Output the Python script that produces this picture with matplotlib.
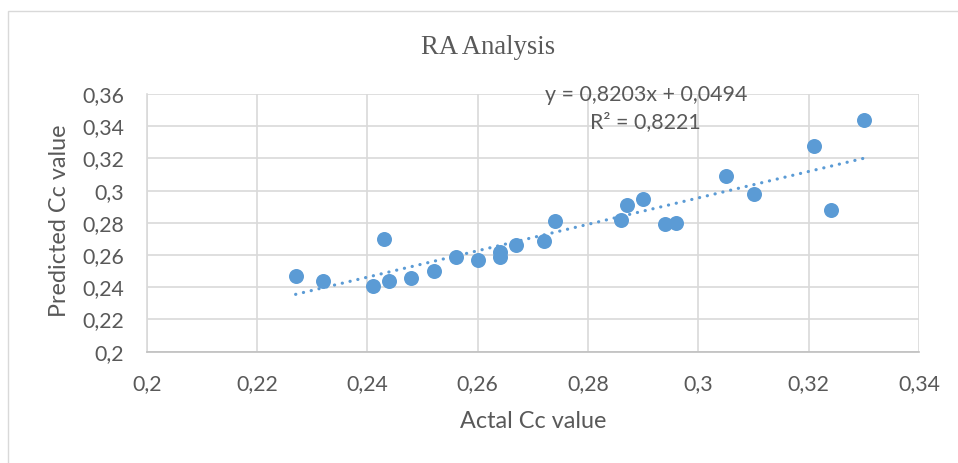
import matplotlib
matplotlib.use("Agg")
import matplotlib.pyplot as plt
import numpy as np
from matplotlib.patches import Rectangle

# ---- data ----
actual = [0.227, 0.232, 0.241, 0.243, 0.244, 0.248, 0.252, 0.256, 0.260, 0.264,
          0.264, 0.267, 0.272, 0.274, 0.286, 0.287, 0.290, 0.294, 0.296, 0.305,
          0.310, 0.321, 0.324, 0.330]
predicted = [0.247, 0.244, 0.241, 0.270, 0.244, 0.246, 0.250, 0.259, 0.257, 0.262,
             0.259, 0.266, 0.269, 0.281, 0.282, 0.291, 0.295, 0.279, 0.280, 0.309,
             0.298, 0.328, 0.288, 0.344]
slope = 0.8203
intercept = 0.0494
eq_text = "y = 0,8203x + 0,0494"
r2_text = "R² = 0,8221"
x_ticks = [0.20, 0.22, 0.24, 0.26, 0.28, 0.30, 0.32, 0.34]
x_tick_labels = ["0,2", "0,22", "0,24", "0,26", "0,28", "0,3", "0,32", "0,34"]
y_ticks = [0.20, 0.22, 0.24, 0.26, 0.28, 0.30, 0.32, 0.34, 0.36]
y_tick_labels = ["0,2", "0,22", "0,24", "0,26", "0,28", "0,3", "0,32", "0,34", "0,36"]
title = "RA Analysis"
xlabel = "Actal Cc value"
ylabel = "Predicted Cc value"

W, H = 958, 463
DPI = 100
TXT = "#595959"
BLUE = "#5B9BD5"
GRID = "#D9D9D9"

fig = plt.figure(figsize=(W / DPI, H / DPI), dpi=DPI)
fig.patch.set_facecolor("white")

# chart area border (left/top visible)
fig.patches.append(Rectangle((7.7 / W, -0.1), 1.2, 1.1 - 10.7 / H,
                             transform=fig.transFigure, fill=False,
                             edgecolor="#D9D9D9", linewidth=1.0))

left, right = 146.7 / W, 919 / W
bottom, top = 1 - 351.7 / H, 1 - 94 / H
ax = fig.add_axes([left, bottom, right - left, top - bottom])
ax.set_xlim(0.20, 0.34)
ax.set_ylim(0.20, 0.36)

ax.set_xticks(x_ticks)
ax.set_xticklabels(x_tick_labels)
ax.set_yticks(y_ticks)
ax.set_yticklabels(y_tick_labels)
ax.tick_params(length=0, labelsize=15.3, labelcolor=TXT)
ax.tick_params(axis="x", pad=16)
ax.tick_params(axis="y", pad=16.5)
for lab in ax.get_xticklabels() + ax.get_yticklabels():
    lab.set_fontfamily("Lato")

ax.grid(True, color=GRID, linewidth=1.2)
ax.set_axisbelow(True)
for s in ["top", "right"]:
    ax.spines[s].set_visible(False)
ax.spines["left"].set_color(GRID)
ax.spines["left"].set_linewidth(1.2)
ax.spines["bottom"].set_color("#BFBFBF")
ax.spines["bottom"].set_linewidth(1.2)

# trendline
xs = np.array([min(actual), max(actual)])
ax.plot(xs, slope * xs + intercept, color=BLUE, linewidth=2.3,
        linestyle=(0, (0.05, 2.45)), dash_capstyle="round", zorder=2)

ax.plot(actual, predicted, linestyle="none", marker="o", markersize=10.8,
        markerfacecolor=BLUE, markeredgecolor=BLUE, markeredgewidth=0, zorder=3)

# trend label
fig.text(646 / W, 1 - 95 / H, eq_text, ha="center", va="center",
         fontsize=15.4, color=TXT, family="Lato")
fig.text(645 / W, 1 - 122 / H, r2_text, ha="center", va="center",
         fontsize=15.4, color=TXT, family="Lato")

# title and axis labels
fig.text(488 / W, 1 - 47 / H, title, ha="center", va="center",
         fontsize=19.2, color=TXT, family="Liberation Serif")
fig.text(532.9 / W, 1 - 422 / H, xlabel, ha="center", va="center",
         fontsize=16.8, color=TXT, family="Lato")
fig.text(59 / W, 1 - 221 / H, ylabel, ha="center", va="center", rotation=90,
         fontsize=16.8, color=TXT, family="Lato")

fig.savefig("out.png", dpi=DPI, facecolor="white")
